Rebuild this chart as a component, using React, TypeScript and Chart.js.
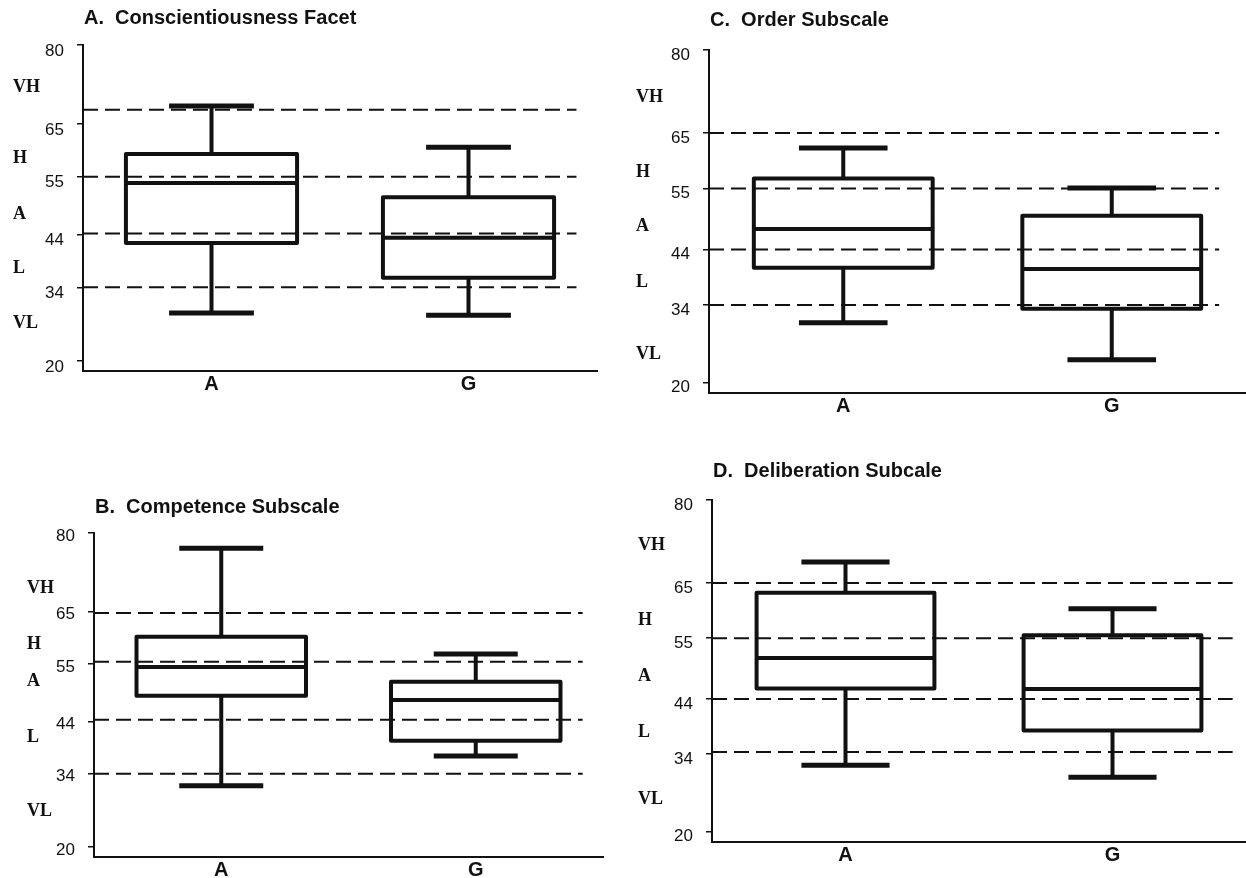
import React, { useEffect, useRef } from "react";
import { Chart, registerables } from "chart.js";

Chart.register(...registerables);

// ---------- data ----------
const categories = ["A", "G"];
const panelTitles = [
  "A.  Conscientiousness Facet",
  "B.  Competence Subscale",
  "C.  Order Subscale",
  "D.  Deliberation Subcale",
];
const yTicks = [20, 34, 44, 55, 65, 80];
const bandLabels = ["VH", "H", "A", "L", "VL"];

// per panel (A, B, C, D), per category [A, G]
const minValues = [
  [29.1, 28.7],
  [31.7, 37.4],
  [30.8, 24.1],
  [32.0, 29.8],
];
const q1Values = [
  [42.4, 35.8],
  [48.9, 40.3],
  [40.7, 33.3],
  [45.9, 38.3],
];
const medianValues = [
  [53.8, 43.4],
  [54.4, 48.1],
  [47.7, 40.5],
  [51.4, 45.8],
];
const q3Values = [
  [59.3, 51.1],
  [60.2, 51.6],
  [56.8, 50.1],
  [63.2, 55.5],
];
const maxValues = [
  [68.4, 60.6],
  [77.1, 56.9],
  [62.3, 55.1],
  [68.8, 60.3],
];
// dashed cut-off lines per panel
const cutoffLines = [
  [67.7, 55, 44.2, 34],
  [64.7, 55.4, 44.3, 34],
  [65, 55, 44, 34],
  [65, 55, 44, 34.4],
];
// vertical position (in scale units) of band labels per panel
const bandLabelValues = [
  [72, 58.4, 47.9, 37.5, 27.2],
  [69.5, 58.8, 51.6, 40.9, 26.8],
  [71.4, 58, 48.1, 38, 25],
  [71.8, 58.3, 48.1, 38, 25.8],
];

// ---------- layout / style ----------
const Y_MIN = 18.1;
const Y_MAX = 80;
const X_MIN = 0.5;
const X_MAX = 2.5;
const BOX_HALF = 0.333;
const CAP_HALF = 0.165;
const INK = "#111";

const layouts = [
  { left: 0, top: 0, width: 623, height: 430, axisW: 83, padTop: 45, padRight: 26, axisH: 59, titleDy: 27, bandDx: 70, labelOffset: 6, dashEnd: 2.42 },
  { left: 0, top: 440, width: 623, height: 438, axisW: 94, padTop: 93, padRight: 20, axisH: 21, titleDy: 26, bandDx: 67, labelOffset: 3, dashEnd: 2.42 },
  { left: 623, top: 0, width: 623, height: 430, axisW: 86, padTop: 50, padRight: 0, axisH: 37, titleDy: 30, bandDx: 73, labelOffset: 5, dashEnd: 2.4 },
  { left: 623, top: 440, width: 623, height: 438, axisW: 89, padTop: 60, padRight: 0, axisH: 36, titleDy: 29, bandDx: 74, labelOffset: 5, dashEnd: 2.45 },
];

const annotPlugin = {
  id: "annot",
  afterDraw(chart: any, _args: any, opts: any) {
    const { ctx, chartArea, scales } = chart;
    ctx.save();
    ctx.fillStyle = INK;
    ctx.textAlign = "left";
    ctx.textBaseline = "middle";
    ctx.font = 'bold 20px "Liberation Sans", Arial, sans-serif';
    ctx.fillText(opts.title, chartArea.left + 1, chartArea.top - opts.titleDy);
    ctx.font = 'bold 18px "Liberation Serif", "Times New Roman", serif';
    opts.labels.forEach((t: string, i: number) => {
      ctx.fillText(t, chartArea.left - opts.bandDx, scales.y.getPixelForValue(opts.values[i]));
    });
    ctx.restore();
  },
};

function buildDatasets(p: number) {
  const boxPts: any[] = [];
  const medPts: any[] = [];
  const whiskPts: any[] = [];
  const capPts: any[] = [];
  categories.forEach((_, i) => {
    const c = i + 1;
    const lo = q1Values[p][i];
    const hi = q3Values[p][i];
    const md = medianValues[p][i];
    const mn = minValues[p][i];
    const mx = maxValues[p][i];
    boxPts.push(
      { x: c - BOX_HALF, y: lo },
      { x: c + BOX_HALF, y: lo },
      { x: c + BOX_HALF, y: hi },
      { x: c - BOX_HALF, y: hi },
      { x: c - BOX_HALF, y: lo },
      { x: c, y: null }
    );
    medPts.push({ x: c - BOX_HALF, y: md }, { x: c + BOX_HALF, y: md }, { x: c, y: null });
    whiskPts.push(
      { x: c, y: hi },
      { x: c, y: mx },
      { x: c, y: null },
      { x: c, y: mn },
      { x: c, y: lo },
      { x: c, y: null }
    );
    capPts.push(
      { x: c - CAP_HALF, y: mx },
      { x: c + CAP_HALF, y: mx },
      { x: c, y: null },
      { x: c - CAP_HALF, y: mn },
      { x: c + CAP_HALF, y: mn },
      { x: c, y: null }
    );
  });
  const dashPts: any[] = [];
  cutoffLines[p].forEach((v) => {
    dashPts.push({ x: X_MIN, y: v }, { x: layouts[p].dashEnd, y: v }, { x: 1, y: null });
  });
  const base = {
    showLine: true,
    pointRadius: 0,
    pointHitRadius: 0,
    spanGaps: false,
    borderColor: INK,
    backgroundColor: INK,
    fill: false,
  };
  return [
    { ...base, data: dashPts, borderWidth: 2, borderDash: [15, 7] },
    { ...base, data: whiskPts, borderWidth: 4 },
    { ...base, data: capPts, borderWidth: 5 },
    { ...base, data: boxPts, borderWidth: 4, borderJoinStyle: "round", borderCapStyle: "round" },
    { ...base, data: medPts, borderWidth: 4 },
  ];
}

function Panel({ p }: { p: number }) {
  const ref = useRef<HTMLCanvasElement>(null);
  const L = layouts[p];
  useEffect(() => {
    if (!ref.current) return;
    const chart = new Chart(ref.current, {
      type: "scatter",
      data: { datasets: buildDatasets(p) as any },
      plugins: [annotPlugin as any],
      options: {
        animation: false,
        responsive: false,
        events: [],
        layout: { padding: { top: L.padTop, right: L.padRight, left: 0, bottom: 0 } },
        plugins: {
          legend: { display: false },
          tooltip: { enabled: false },
          annot: {
            title: panelTitles[p],
            labels: bandLabels,
            values: bandLabelValues[p],
            titleDy: L.titleDy,
            bandDx: L.bandDx,
          },
        } as any,
        scales: {
          x: {
            type: "linear",
            min: X_MIN,
            max: X_MAX,
            bounds: "data",
            afterBuildTicks: (s: any) => {
              s.ticks = categories.map((_, i) => ({ value: i + 1 }));
            },
            afterFit: (s: any) => {
              s.height = L.axisH;
              s.paddingLeft = 0;
              s.paddingRight = 0;
            },
            grid: { display: true, drawOnChartArea: false, drawTicks: false, color: INK },
            border: { display: true, color: INK, width: 2 },
            ticks: {
              padding: 1,
              color: INK,
              font: { family: '"Liberation Sans", Arial, sans-serif', size: 20, weight: "bold" },
              callback: (v: any) => categories[Math.round(Number(v)) - 1] ?? "",
              maxRotation: 0,
              autoSkip: false,
            },
          },
          y: {
            type: "linear",
            min: Y_MIN,
            max: Y_MAX,
            bounds: "data",
            afterBuildTicks: (s: any) => {
              s.ticks = yTicks.map((v) => ({ value: v }));
            },
            afterFit: (s: any) => {
              s.width = L.axisW;
              s.paddingTop = 0;
              s.paddingBottom = 0;
            },
            grid: { display: true, drawOnChartArea: false, drawTicks: true, tickLength: 6, color: INK, lineWidth: 1.5 },
            border: { display: true, color: INK, width: 2 },
            ticks: {
              padding: 13,
              color: INK,
              labelOffset: L.labelOffset,
              font: { family: '"Liberation Sans", Arial, sans-serif', size: 17 },
              callback: (v: any) => String(v),
              autoSkip: false,
            },
          },
        },
      } as any,
    });
    return () => chart.destroy();
  }, [p]);
  return (
    <canvas
      ref={ref}
      width={L.width}
      height={L.height}
      style={{ position: "absolute", left: L.left, top: L.top, width: L.width, height: L.height }}
    />
  );
}

export default function App() {
  return (
    <div style={{ position: "absolute", left: 0, top: 0, width: 1246, height: 878, background: "#fff", overflow: "hidden" }}>
      {[0, 1, 2, 3].map((p) => (
        <Panel key={p} p={p} />
      ))}
    </div>
  );
}
